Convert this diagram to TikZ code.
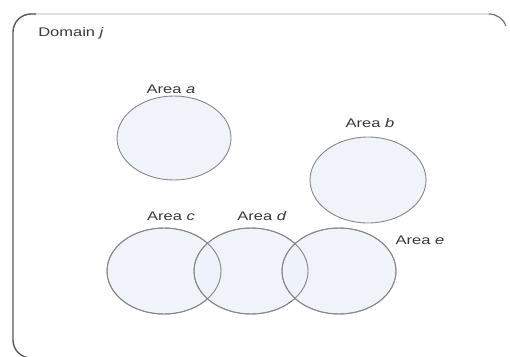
\documentclass[tikz,border=0pt]{standalone}
\usepackage{fontspec}
\setmainfont{Liberation Sans}
\definecolor{areafill}{RGB}{238,242,250}
\definecolor{arealine}{RGB}{135,135,135}
\begin{document}
\begin{tikzpicture}[x=1pt,y=-1pt,
  area/.style={draw=arealine, line width=0.9pt, fill=areafill, fill opacity=0.85},
  lbl/.style={font=\fontsize{12.5}{15}\selectfont, text=black!78, inner sep=0pt, xscale=1.32, transform shape}]
\useasboundingbox (0,0) rectangle (510,356);
\fill[white] (0,0) rectangle (510,356);
% domain frame
\draw[black!12, line width=1.2pt] (31,14) -- (489,14);
\draw[black!65, line width=1.4pt] (31,358) arc[start angle=90, end angle=180, radius=18] -- (13,32) arc[start angle=180, end angle=270, radius=18] -- (36,14);
\draw[black!55, line width=1.2pt] (489,14) arc[start angle=270, end angle=340, radius=18];
\node[lbl, anchor=west] (dom) at (38,33) {Domain \textit{j}};
% areas
\path[area] (174,138) ellipse [x radius=57, y radius=42];
\path[area] (368,180) ellipse [x radius=58, y radius=43];
\path[area] (164,271) ellipse [x radius=57, y radius=43];
\path[area] (251,271) ellipse [x radius=57, y radius=43];
\path[area] (339,271) ellipse [x radius=57, y radius=43];
\draw[arealine, line width=0.9pt] (164,271) ellipse [x radius=57, y radius=43];
\draw[arealine, line width=0.9pt] (251,271) ellipse [x radius=57, y radius=43];
\draw[arealine, line width=0.9pt] (339,271) ellipse [x radius=57, y radius=43];
% labels
\node[lbl] (la) at (171,89) {Area \textit{a}};
\node[lbl] (lb) at (370,123) {Area \textit{b}};
\node[lbl] (lc) at (171,216) {Area \textit{c}};
\node[lbl] (ld) at (262,216) {Area \textit{d}};
\node[lbl] (le) at (420,240) {Area \textit{e}};
\end{tikzpicture}
\end{document}
